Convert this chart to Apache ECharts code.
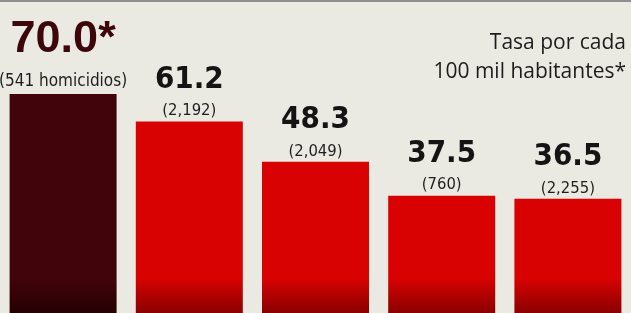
<!DOCTYPE html>
<html>
<head>
<meta charset="utf-8">
<script src="https://cdn.jsdelivr.net/npm/echarts@6/dist/echarts.min.js"></script>
<style>
  html,body{margin:0;padding:0;background:#ebeae2;}
  #main{width:631px;height:313px;}
</style>
</head>
<body>
<div id="main"></div>
<script>
// tasa por cada 100 mil habitantes
let categorias=['1','2','3','4','5'];
let tasas=[70.0,61.2,48.3,37.5,36.5];
let homicidios=['541 homicidios','2,192','2,049','760','2,255'];
let nota=['Tasa por cada','100 mil habitantes*'];

let chart=echarts.init(document.getElementById('main'),null,{renderer:'canvas'});

// oscurece solo la parte baja de cada barra (coordenadas globales)
function barColor(top,bottom){
  return new echarts.graphic.LinearGradient(0,278,0,313,[
    {offset:0,color:top},
    {offset:1,color:bottom}
  ],true);
}

let narrow="'DejaVu Sans Condensed', 'DejaVu Sans', sans-serif";

let data=tasas.map(function(v,i){
  let first=i===0;
  return {
    value:v,
    itemStyle:{
      color:first?barColor('#41040a','#250003'):barColor('#d80202','#8a0000')
    },
    label:{
      formatter:function(){
        if(first){
          return '{big|'+v.toFixed(1)+'*}\n{p1|('+homicidios[i]+')}';
        }
        return '{v|'+v.toFixed(1)+'}\n{p|('+homicidios[i]+')}';
      }
    }
  };
});

let textos=nota.map(function(t,i){
  return {
    type:'text',
    right:5,
    top:33+i*29,
    style:{
      text:t,
      font:'21px "Open Sans"',
      fill:'#1c1c1c'
    }
  };
});

let option={
  backgroundColor:'#ebeae2',
  animation:false,
  graphic:[{
    type:'rect',
    shape:{x:0,y:0,width:631,height:2},
    style:{fill:'#8f8f8f'}
  }].concat(textos),
  grid:{
    left:-2,
    right:-7,
    top:0,
    bottom:0
  },
  xAxis:{
    type:'category',
    data:categorias,
    show:false
  },
  yAxis:{
    type:'value',
    min:0,
    max:100,
    show:false
  },
  series:[{
    type:'bar',
    data:data,
    barWidth:107,
    label:{
      show:true,
      position:'top',
      distance:1,
      rich:{
        big:{
          fontFamily:'Liberation Sans',
          fontWeight:'bold',
          fontSize:45,
          lineHeight:62,
          color:'#3d060b'
        },
        p1:{
          fontFamily:narrow,
          fontSize:17,
          lineHeight:22,
          color:'#1e1e1e'
        },
        v:{
          fontFamily:narrow,
          fontWeight:'bold',
          fontSize:31,
          lineHeight:43,
          color:'#141414'
        },
        p:{
          fontFamily:narrow,
          fontSize:16.5,
          lineHeight:19,
          color:'#1e1e1e'
        }
      }
    }
  }]
};
chart.setOption(option);
</script>
</body>
</html>
